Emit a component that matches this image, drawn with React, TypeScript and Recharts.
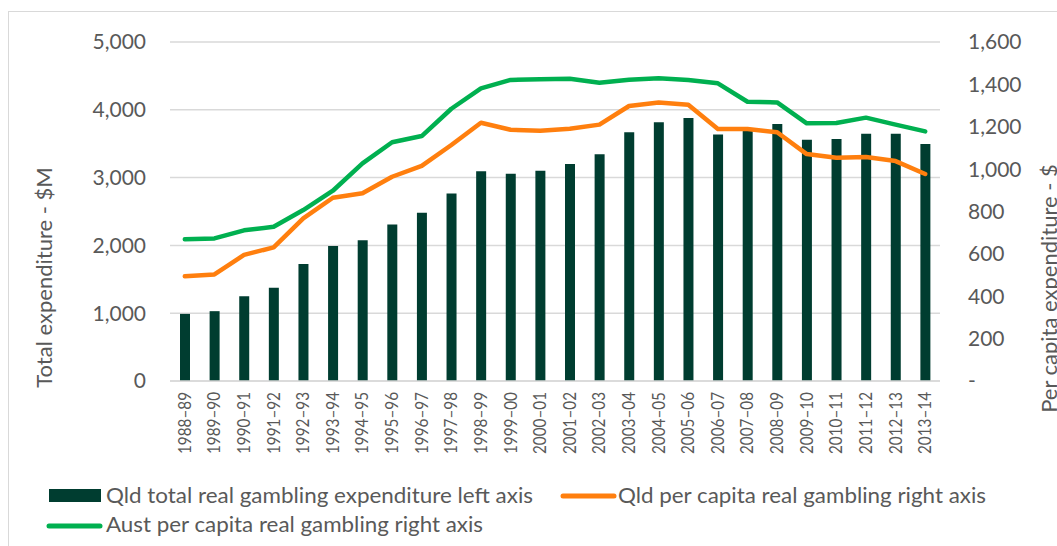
import {
    ComposedChart,
    Bar,
    Line,
    XAxis,
    YAxis,
    CartesianGrid,
    Legend,
} from 'recharts';

const years = [
    '1988–89', '1989–90', '1990–91', '1991–92', '1992–93', '1993–94', '1994–95',
    '1995–96', '1996–97', '1997–98', '1998–99', '1999–00', '2000–01', '2001–02',
    '2002–03', '2003–04', '2004–05', '2005–06', '2006–07', '2007–08', '2008–09',
    '2009–10', '2010–11', '2011–12', '2012–13', '2013–14',
];

// Qld total real gambling expenditure, $M (left axis)
const qldTotal = [
    990, 1030, 1250, 1375, 1725, 1990, 2075, 2310, 2480, 2765, 3095, 3055, 3100,
    3200, 3345, 3670, 3815, 3880, 3635, 3690, 3790, 3560, 3570, 3645, 3645, 3495,
];

// Qld per capita real gambling, $ (right axis)
const qldPerCapita = [
    494, 503, 595, 631, 768, 865, 886, 964, 1015, 1114, 1219, 1186, 1181, 1191,
    1210, 1298, 1314, 1304, 1189, 1189, 1174, 1071, 1054, 1057, 1038, 977,
];

// Aust per capita real gambling, $ (right axis)
const austPerCapita = [
    669, 673, 711, 728, 807, 898, 1027, 1127, 1156, 1285, 1381, 1421, 1424, 1427,
    1408, 1422, 1429, 1421, 1405, 1318, 1315, 1216, 1218, 1243, 1210, 1178,
];

const leftTicks = [0, 1000, 2000, 3000, 4000, 5000];
const rightTicks = [0, 200, 400, 600, 800, 1000, 1200, 1400, 1600];

const seriesNames = {
    total: 'Qld total real gambling expenditure left axis',
    qld: 'Qld per capita real gambling right axis',
    aust: 'Aust per capita real gambling right axis',
};

const data = years.map((year, i) => ({
    year,
    total: qldTotal[i],
    qld: qldPerCapita[i],
    aust: austPerCapita[i],
}));

const GREY = '#595959';
const GRID = '#d9d9d9';
const FONT = 'Lato, "Open Sans", sans-serif';

const fmt = (v: number) => v.toLocaleString('en-US');

const YearTick = (props: any) => {
    const { x, y, payload } = props;
    return (
        <text
            x={x}
            y={y}
            transform={`rotate(-90, ${x}, ${y})`}
            textAnchor="end"
            dy="0.35em"
            fill={GREY}
            fontSize={17}
            fontFamily={FONT}
            textLength={62}
            lengthAdjust="spacingAndGlyphs"
        >
            {payload.value}
        </text>
    );
};

const LeftTitle = (props: any) => {
    const { viewBox } = props;
    const x = viewBox.x + 44;
    const y = viewBox.y + viewBox.height / 2 + 66;
    return (
        <text x={x} y={y} transform={`rotate(-90, ${x}, ${y})`} textAnchor="middle"
            fill={GREY} fontSize={22} fontFamily={FONT}>
            Total expenditure - $M
        </text>
    );
};

const RightTitle = (props: any) => {
    const { viewBox } = props;
    const x = viewBox.x + viewBox.width;
    const y = viewBox.y + viewBox.height / 2 + 77;
    return (
        <text x={x} y={y} transform={`rotate(-90, ${x}, ${y})`} textAnchor="middle"
            fill={GREY} fontSize={22} fontFamily={FONT}>
            Per capita expenditure - $
        </text>
    );
};

// legend slots keyed by series: icon start/row + text start + squeezed text length (Calibri is narrow)
const legendSlots: Record<string, { ix: number; iy: number; tx: number; ty: number; len: number }> = {
    total: { ix: 41, iy: 34.5, tx: 98, ty: 42, len: 427 },
    qld: { ix: 553, iy: 35, tx: 610, ty: 42, len: 368 },
    aust: { ix: 39, iy: 65, tx: 98, ty: 71, len: 377 },
};

const LegendContent = (props: any) => {
    const { payload = [] } = props;
    return (
        <svg width={1049} height={85} style={{ display: 'block' }}>
            {payload.map((entry: any) => {
                const s = legendSlots[entry.dataKey];
                if (!s) return null;
                return (
                    <g key={entry.dataKey}>
                        {entry.type === 'rect' ? (
                            <rect x={s.ix} y={s.iy - 6.5} width={52} height={13} fill={entry.color} />
                        ) : (
                            <line x1={s.ix + 2} y1={s.iy} x2={s.ix + 53} y2={s.iy}
                                stroke={entry.color} strokeWidth={5} strokeLinecap="round" />
                        )}
                        <text x={s.tx} y={s.ty} fill={GREY} fontSize={21} fontFamily={FONT}
                            textLength={s.len} lengthAdjust="spacingAndGlyphs">
                            {entry.value}
                        </text>
                    </g>
                );
            })}
        </svg>
    );
};

const GamblingChart = () => {
    return (
        <div style={{ position: 'fixed', left: 8, top: 8, width: 1049, height: 538, overflow: 'hidden', background: '#fff' }}>
            <div style={{
                position: 'absolute', left: 0, top: 3, width: 1200, height: 700,
                borderLeft: `1.5px solid ${GRID}`, borderTop: `1.5px solid ${GRID}`,
            }} />
            <ComposedChart
                width={1049}
                height={538}
                data={data}
                margin={{ top: 34, right: 0, left: 0, bottom: 0 }}
            >
                <CartesianGrid vertical={false} yAxisId="left" stroke={GRID} strokeWidth={1.5} />
                <XAxis
                    dataKey="year"
                    interval={0}
                    height={80}
                    tickLine={false}
                    tickSize={0}
                    tickMargin={11}
                    axisLine={{ stroke: GRID, strokeWidth: 1.5 }}
                    tick={<YearTick />}
                />
                <YAxis
                    yAxisId="left"
                    orientation="left"
                    width={162}
                    domain={[0, 5000]}
                    ticks={leftTicks}
                    tickFormatter={fmt}
                    axisLine={false}
                    tickLine={false}
                    tickSize={0}
                    tickMargin={24}
                    tick={{ fill: GREY, fontSize: 21, fontFamily: FONT }}
                    label={<LeftTitle />}
                />
                <YAxis
                    yAxisId="right"
                    orientation="right"
                    width={117}
                    domain={[0, 1600]}
                    ticks={rightTicks}
                    tickFormatter={(v: number) => (v === 0 ? '-' : fmt(v))}
                    axisLine={false}
                    tickLine={false}
                    tickSize={0}
                    tickMargin={28}
                    tick={{ fill: GREY, fontSize: 21, fontFamily: FONT }}
                    label={<RightTitle />}
                />
                <Legend
                    verticalAlign="bottom"
                    wrapperStyle={{ left: 0, bottom: 0, width: 1049, height: 85 }}
                    content={<LegendContent />}
                />
                <Bar
                    yAxisId="left"
                    dataKey="total"
                    name={seriesNames.total}
                    fill="#003d30"
                    barSize={10}
                    isAnimationActive={false}
                />
                <Line
                    yAxisId="right"
                    dataKey="qld"
                    name={seriesNames.qld}
                    type="linear"
                    stroke="#ff7f0e"
                    strokeWidth={4.5}
                    strokeLinecap="round"
                    strokeLinejoin="round"
                    dot={false}
                    activeDot={false}
                    isAnimationActive={false}
                />
                <Line
                    yAxisId="right"
                    dataKey="aust"
                    name={seriesNames.aust}
                    type="linear"
                    stroke="#00b050"
                    strokeWidth={4.5}
                    strokeLinecap="round"
                    strokeLinejoin="round"
                    dot={false}
                    activeDot={false}
                    isAnimationActive={false}
                />
            </ComposedChart>
        </div>
    );
};

export default function App() {
    return <GamblingChart />;
}
